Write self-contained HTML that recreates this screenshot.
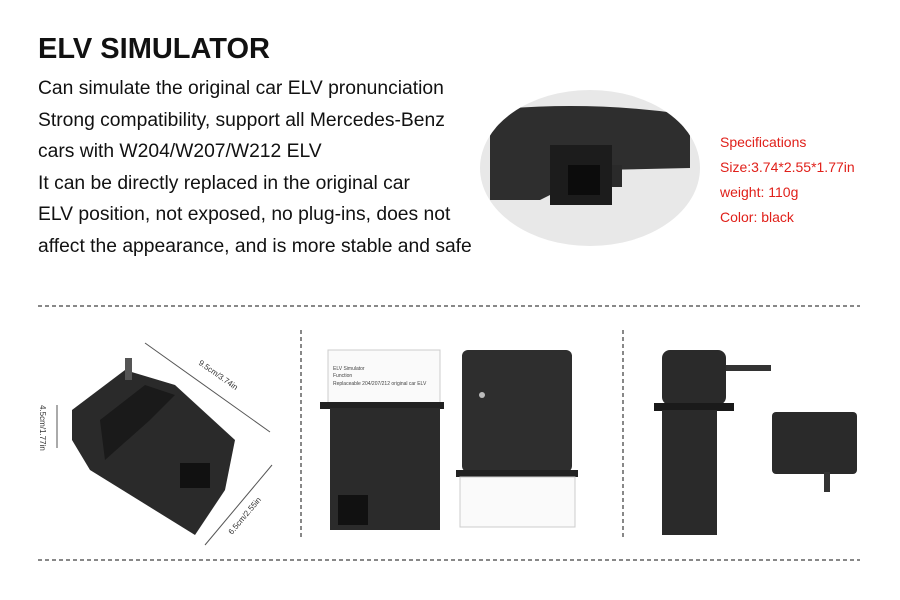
<!DOCTYPE html>
<html><head><meta charset="utf-8"><style>
body{margin:0;width:900px;height:600px;background:#fff;position:relative;overflow:hidden;font-family:"Liberation Sans",sans-serif}
.t{position:absolute;left:38px;top:33px;font-size:29px;font-weight:bold;color:#111}
.b{position:absolute;left:38px;font-size:19.3px;color:#111;white-space:nowrap}
.r{position:absolute;left:720px;font-size:14px;color:#e0201a;white-space:nowrap}
svg{position:absolute;left:0;top:0}
</style></head><body>
<div class="t">ELV SIMULATOR</div>
<div class="b" style="top:78px">Can simulate the original car ELV pronunciation</div>
<div class="b" style="top:110px">Strong compatibility, support all Mercedes-Benz</div>
<div class="b" style="top:141px">cars with W204/W207/W212 ELV</div>
<div class="b" style="top:173px">It can be directly replaced in the original car</div>
<div class="b" style="top:204px">ELV position, not exposed, no plug-ins, does not</div>
<div class="b" style="top:236px">affect the appearance, and is more stable and safe</div>
<div class="r" style="top:134px">Specifications</div>
<div class="r" style="top:159px">Size:3.74*2.55*1.77in</div>
<div class="r" style="top:184px">weight: 110g</div>
<div class="r" style="top:209px">Color: black</div>
<svg width="900" height="600">
<defs><clipPath id="c"><ellipse cx="590" cy="168" rx="110" ry="78"/></clipPath></defs>
<ellipse cx="590" cy="168" rx="110" ry="78" fill="#e8e8e8"/>
<g clip-path="url(#c)">
<path d="M490 110 Q590 100 690 115 L690 168 L600 170 L540 200 L490 200Z" fill="#2e2e2e"/>
<rect x="550" y="145" width="62" height="60" fill="#1c1c1c"/>
<rect x="568" y="165" width="32" height="30" fill="#0c0c0c"/>
<rect x="612" y="165" width="10" height="22" fill="#2a2a2a"/>
</g>
<g stroke="#111" stroke-width="1" stroke-dasharray="4,3">
<line x1="38" y1="306" x2="860" y2="306"/><line x1="38" y1="560" x2="860" y2="560"/>
<line x1="301" y1="330" x2="301" y2="540"/><line x1="623" y1="330" x2="623" y2="540"/>
</g>
<polygon points="72,410 125,370 175,385 235,440 225,490 195,535 90,470 72,440" fill="#2a2a2a"/>
<polygon points="100,420 145,385 175,395 150,420 105,460" fill="#1a1a1a"/>
<rect x="180" y="463" width="30" height="25" fill="#111"/>
<rect x="125" y="358" width="7" height="22" fill="#555"/>
<g stroke="#555" fill="none"><line x1="145" y1="343" x2="270" y2="432"/><line x1="57" y1="405" x2="57" y2="448"/><line x1="272" y1="465" x2="205" y2="545"/></g>
<g font-size="8" fill="#333"><text transform="translate(198,364) rotate(35)">9.5cm/3.74in</text><text transform="translate(40,405) rotate(90)">4.5cm/1.77in</text><text transform="translate(232,535) rotate(-50)">6.5cm/2.55in</text></g>
<rect x="328" y="350" width="112" height="55" fill="#fafafa" stroke="#ccc"/>
<g font-size="5" fill="#444"><text x="333" y="370">ELV Simulator</text><text x="333" y="377">Function</text><text x="333" y="385">Replaceable 204/207/212 original car ELV</text></g>
<rect x="320" y="402" width="124" height="7" fill="#222"/>
<rect x="330" y="408" width="110" height="122" fill="#2b2b2b"/>
<rect x="338" y="495" width="30" height="30" fill="#111"/>
<rect x="462" y="350" width="110" height="122" rx="6" fill="#2e2e2e"/>
<circle cx="482" cy="395" r="3" fill="#bbb"/>
<rect x="456" y="470" width="122" height="7" fill="#222"/>
<rect x="460" y="477" width="115" height="50" fill="#fafafa" stroke="#ccc"/>
<rect x="662" y="350" width="64" height="55" rx="8" fill="#2a2a2a"/>
<rect x="654" y="403" width="80" height="8" fill="#1a1a1a"/>
<rect x="662" y="410" width="55" height="125" fill="#2a2a2a"/>
<rect x="726" y="365" width="45" height="6" fill="#333"/>
<rect x="772" y="412" width="85" height="62" rx="4" fill="#2a2a2a"/>
<rect x="824" y="472" width="6" height="20" fill="#333"/>
</svg>
</body></html>
